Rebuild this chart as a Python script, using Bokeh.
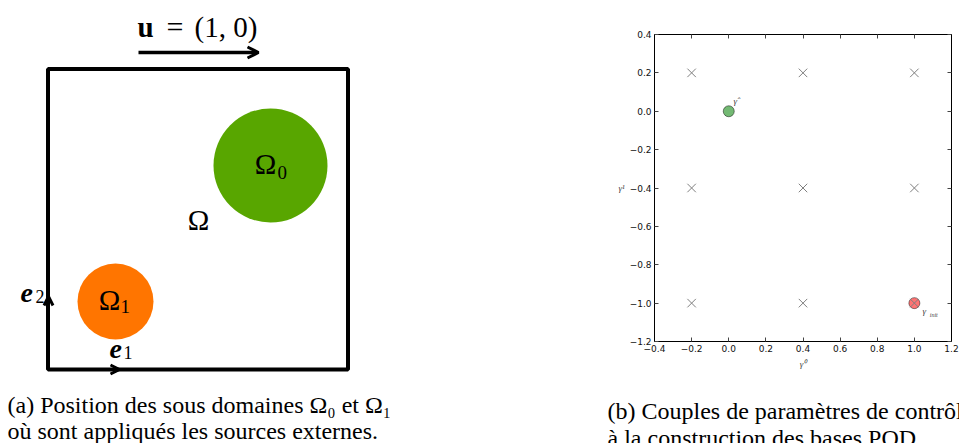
from bokeh.plotting import figure
from bokeh.layouts import row, column
from bokeh.models import (Range1d, LinearAxis, FixedTicker, CustomJSTickFormatter,
                          Arrow, OpenHead, Label)
from bokeh.core.properties import value
from bokeh.embed import file_html
from bokeh.resources import INLINE

# ---------------- data ----------------
# snapshot grid of control parameters (gamma0, gamma1)
grid_g0 = [-0.2, 0.4, 1.0, -0.2, 0.4, 1.0, -0.2, 0.4, 1.0]
grid_g1 = [0.2, 0.2, 0.2, -0.4, -0.4, -0.4, -1.0, -1.0, -1.0]
gamma_hat_g0 = [0.0]
gamma_hat_g1 = [0.0]
gamma_init_g0 = [1.0]
gamma_init_g1 = [-1.0]
x_ticks = [-0.4, -0.2, 0.0, 0.2, 0.4, 0.6, 0.8, 1.0, 1.2]
y_ticks = [-1.2, -1.0, -0.8, -0.6, -0.4, -0.2, 0.0, 0.2, 0.4]

subdomain_names = ["0", "1"]
subdomain_colors = ["#58a600", "#ff7500"]

caption_a = ["(a) Position des sous domaines Ω₀ et Ω₁",
             "où sont appliqués les sources externes."]
caption_b = ["(b) Couples de paramètres de contrôle",
             "à la construction des bases POD."]

SERIF = "Liberation Serif"
W, H = 959, 443
LW = 600
RW = W - LW
TOPH = 385


def blank_fig(w, h):
    f = figure(width=w, height=h, x_range=Range1d(0, w), y_range=Range1d(0, h),
               output_backend="svg", toolbar_location=None, min_border=0)
    f.axis.visible = False
    f.grid.visible = False
    f.outline_line_color = None
    f.background_fill_color = "white"
    f.border_fill_color = "white"
    f.frame_align = False
    return f


def txt(f, x, y, s, size, style="normal", align="left"):
    f.text(x=[x], y=[y], text=[s], text_font=value(SERIF), text_font_size=size,
           text_font_style=style, text_align=align, text_baseline="middle",
           text_color="black")


# ---------------- left panel (diagram), pixel coordinates ----------------
pa = blank_fig(LW, H)

pa.quad(left=[47.5], right=[347.5], bottom=[74], top=[374.5], fill_color=None,
        line_color="black", line_width=4)

pa.circle(x=[270, 115], y=[278, 142], radius=[57, 38], fill_color=subdomain_colors,
          line_color=None)
for (cx, cy, sx, sy), nm in zip([(265, 280, 277, 271), (109, 144, 120, 137)],
                                subdomain_names):
    txt(pa, cx, cy, "Ω", "29px", align="center")
    txt(pa, sx, sy, nm, "19px")

txt(pa, 198, 224, "Ω", "29px", align="center")

# u = (1, 0)
txt(pa, 137, 417, "u", "29px", style="bold")
txt(pa, 166, 417, "=", "30px")
txt(pa, 194, 417, "(1, 0)", "29px")
pa.add_layout(Arrow(end=OpenHead(size=11, line_width=3), x_start=138, y_start=391,
                    x_end=258, y_end=391, line_width=3.5, line_color="black"))

# e1, e2 vectors
pa.add_layout(Arrow(end=OpenHead(size=9, line_width=3), x_start=48, y_start=120,
                    x_end=48, y_end=147, line_width=0.1, line_color="black"))
pa.add_layout(Arrow(end=OpenHead(size=9, line_width=3), x_start=90, y_start=74,
                    x_end=119, y_end=74, line_width=0.1, line_color="black"))
for ex, ey, sx, sy, sub in [(20, 151, 35, 147, "2"), (109, 95, 123, 91, "1")]:
    txt(pa, ex, ey, "e", "28px", style="bold italic")
    txt(pa, sx, sy, sub, "18px")

# caption (a)
pa.text(x=[7, 7], y=[39, 13], text=caption_a, text_font=value(SERIF),
        text_font_size="24px", text_align="left", text_baseline="middle",
        text_color="black")

# ---------------- right panel (scatter) ----------------
pb = figure(width=RW, height=TOPH, x_range=Range1d(-0.4, 1.2), y_range=Range1d(-1.2, 0.4),
            output_backend="svg", toolbar_location=None,
            min_border_left=54, min_border_right=8, min_border_top=34,
            min_border_bottom=TOPH - 341)
pb.frame_align = False
pb.grid.visible = False
pb.outline_line_color = "black"
pb.outline_line_width = 1
pb.background_fill_color = "white"
pb.border_fill_color = "white"

fmt = CustomJSTickFormatter(code="return tick.toFixed(1).replace('-', '\u2212');")
blank = CustomJSTickFormatter(code="return '';")
for ax, ticks in [(pb.xaxis[0], x_ticks), (pb.yaxis[0], y_ticks)]:
    ax.ticker = FixedTicker(ticks=ticks)
    ax.formatter = fmt
    ax.major_tick_in = 4
    ax.major_tick_out = 0
    ax.minor_tick_line_color = None
    ax.major_label_text_font = "DejaVu Sans"
    ax.major_label_text_font_size = "9px"
    ax.major_label_text_color = "#111111"
    ax.major_label_standoff = 3
    ax.axis_line_color = "black"
    ax.major_tick_line_color = "#444444"
    ax.axis_label_text_font = SERIF
    ax.axis_label_text_font_style = "italic"
    ax.axis_label_text_font_size = "9px"
    ax.axis_label_text_color = "#444444"

pb.xaxis[0].axis_label = "γ⁰"
pb.xaxis[0].axis_label_standoff = 4
pb.yaxis[0].axis_label = "γ¹"
pb.yaxis[0].axis_label_standoff = 2
if "axis_label_orientation" in pb.yaxis[0].properties():
    pb.yaxis[0].axis_label_orientation = "horizontal"

for loc, ticks in [("above", x_ticks), ("right", y_ticks)]:
    ax = LinearAxis(ticker=FixedTicker(ticks=ticks), formatter=blank,
                    major_tick_in=4, major_tick_out=0, minor_tick_line_color=None,
                    major_label_text_font_size="0px", axis_line_color="black",
                    major_tick_line_color="#444444", major_label_standoff=0)
    pb.add_layout(ax, loc)

pb.scatter(x=gamma_hat_g0, y=gamma_hat_g1, marker="circle", size=11,
           fill_color="green", fill_alpha=0.55, line_color="black", line_alpha=0.45)
pb.scatter(x=gamma_init_g0, y=gamma_init_g1, marker="circle", size=11,
           fill_color="red", fill_alpha=0.55, line_color="black", line_alpha=0.45)
pb.scatter(x=grid_g0, y=grid_g1, marker="x", size=12, line_color="#808080",
           line_width=1)

pb.add_layout(Label(x=0.026, y=0.025, text="γ̂", text_font=SERIF, text_font_style="italic",
                    text_font_size="9px", text_color="#444444"))
pb.add_layout(Label(x=1.044, y=-1.065, text="γ", text_font=SERIF, text_font_style="italic",
                    text_font_size="9px", text_color="#444444"))
pb.add_layout(Label(x=1.083, y=-1.075, text="init", text_font=SERIF,
                    text_font_style="italic", text_font_size="6px", text_color="#444444"))

# caption (b)
cb = blank_fig(RW, H - TOPH)
cb.text(x=[7, 7], y=[33, 6], text=caption_b, text_font=value(SERIF),
        text_font_size="24px", text_align="left", text_baseline="middle",
        text_color="black")

layout = row(pa, column(pb, cb, spacing=0), spacing=0)
open("out.html", "w").write(file_html(layout, INLINE))
